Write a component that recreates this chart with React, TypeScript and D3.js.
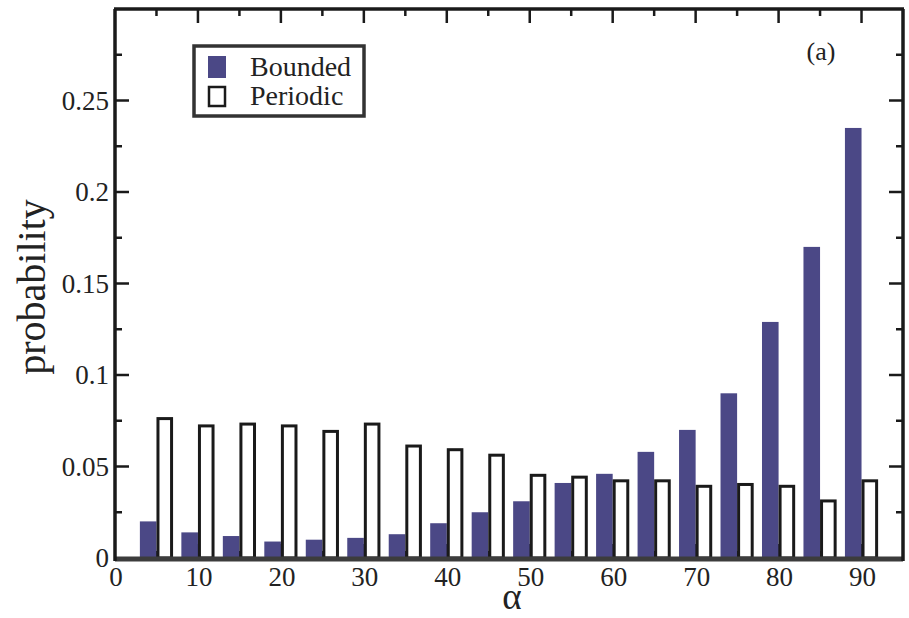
import * as d3 from "d3";
import React from "react";

const bins = [5, 10, 15, 20, 25, 30, 35, 40, 45, 50, 55, 60, 65, 70, 75, 80, 85, 90];
const bounded = [0.02, 0.014, 0.012, 0.009, 0.01, 0.011, 0.013, 0.019, 0.025, 0.031, 0.041, 0.046, 0.058, 0.07, 0.09, 0.129, 0.17, 0.235];
const periodic = [0.077, 0.073, 0.074, 0.073, 0.07, 0.074, 0.062, 0.06, 0.057, 0.046, 0.045, 0.043, 0.043, 0.04, 0.041, 0.04, 0.032, 0.043];
const xTicks = [0, 10, 20, 30, 40, 50, 60, 70, 80, 90];
const yTicks = [0, 0.05, 0.1, 0.15, 0.2, 0.25];
const yTickLabels = ["0", "0.05", "0.1", "0.15", "0.2", "0.25"];
const legendItems = ["Bounded", "Periodic"];

export default function App() {
  const svgRef = React.useRef(null);
  const width = 909;
  const height = 618;
  const margin = { top: 9, right: 6, bottom: 60, left: 115 };

  React.useEffect(() => {
    const svg = d3.select(svgRef.current);
    svg.selectAll("*").remove();

    const font = "'Liberation Serif', 'Times New Roman', serif";
    const blue = "#4b4886";

    const xScale = d3.scaleLinear().domain([0, 95]).range([margin.left, width - margin.right]);
    const yScale = d3.scaleLinear().domain([0, 0.3]).range([height - margin.bottom, margin.top]);
    const x0 = xScale(0);
    const x1 = xScale(95);
    const y0 = yScale(0);
    const y1 = yScale(0.3);

    // minor / major ticks on all four sides, pointing inward
    const xMinor = d3.range(5, 95, 10);
    const yMinor = d3.range(0.025, 0.3, 0.05);
    const tickG = svg.append("g").attr("stroke", "#1a1a1a");
    const addX = (vals: number[], len: number) => {
      vals.forEach((v) => {
        tickG.append("line").attr("x1", xScale(v)).attr("x2", xScale(v)).attr("y1", y1).attr("y2", y1 + len).attr("stroke-width", 2.5);
        tickG.append("line").attr("x1", xScale(v)).attr("x2", xScale(v)).attr("y1", y0).attr("y2", y0 - len).attr("stroke-width", 2.5);
      });
    };
    const addY = (vals: number[], len: number) => {
      vals.forEach((v) => {
        tickG.append("line").attr("x1", x0).attr("x2", x0 + len).attr("y1", yScale(v)).attr("y2", yScale(v)).attr("stroke-width", 2.5);
        tickG.append("line").attr("x1", x1).attr("x2", x1 - len).attr("y1", yScale(v)).attr("y2", yScale(v)).attr("stroke-width", 2.5);
      });
    };
    addX(xTicks.slice(1), 14);
    addX(xMinor, 7);
    addY(yTicks.slice(1), 14);
    addY(yMinor, 7);

    // bars
    svg
      .append("g")
      .selectAll("rect")
      .data(bins)
      .enter()
      .append("rect")
      .attr("x", (d) => xScale(d - 2))
      .attr("y", (d, i) => yScale(bounded[i]))
      .attr("width", xScale(2) - xScale(0))
      .attr("height", (d, i) => y0 - yScale(bounded[i]))
      .attr("fill", blue);

    svg
      .append("g")
      .selectAll("rect")
      .data(bins)
      .enter()
      .append("rect")
      .attr("x", (d) => xScale(d) + 1.5)
      .attr("y", (d, i) => yScale(periodic[i]) + 1.5)
      .attr("width", xScale(2) - xScale(0) - 3)
      .attr("height", (d, i) => y0 - yScale(periodic[i]) - 1.5)
      .attr("fill", "#fff")
      .attr("stroke", "#1a1a1a")
      .attr("stroke-width", 3);

    // frame
    svg.append("line").attr("x1", x0).attr("x2", x1).attr("y1", y0 + 1).attr("y2", y0 + 1).attr("stroke", "#3c3c3c").attr("stroke-width", 5);
    svg.append("line").attr("x1", x0 - 1).attr("x2", x1 + 1).attr("y1", y1).attr("y2", y1).attr("stroke", "#1a1a1a").attr("stroke-width", 3.5);
    svg.append("line").attr("x1", x0).attr("x2", x0).attr("y1", y1).attr("y2", y0 + 3).attr("stroke", "#1a1a1a").attr("stroke-width", 3.5);
    svg.append("line").attr("x1", x1).attr("x2", x1).attr("y1", y1).attr("y2", y0 + 3).attr("stroke", "#1a1a1a").attr("stroke-width", 3.5);

    // tick labels
    svg
      .append("g")
      .selectAll("text")
      .data(xTicks)
      .enter()
      .append("text")
      .attr("x", (d) => xScale(d) + 1)
      .attr("y", y0 + 28)
      .attr("text-anchor", "middle")
      .attr("font-family", font)
      .attr("font-size", 27)
      .attr("fill", "#222")
      .text((d) => d);

    svg
      .append("g")
      .selectAll("text")
      .data(yTicks)
      .enter()
      .append("text")
      .attr("x", x0 - 6)
      .attr("y", (d) => yScale(d))
      .attr("dy", "0.34em")
      .attr("text-anchor", "end")
      .attr("font-family", font)
      .attr("font-size", 27)
      .attr("fill", "#222")
      .text((d, i) => yTickLabels[i]);

    // axis titles
    svg
      .append("text")
      .attr("x", (x0 + x1) / 2 + 3)
      .attr("y", 609)
      .attr("text-anchor", "middle")
      .attr("font-family", font)
      .attr("font-size", 37)
      .attr("fill", "#222")
      .text("α");

    svg
      .append("text")
      .attr("transform", "rotate(-90)")
      .attr("x", -287)
      .attr("y", 45)
      .attr("text-anchor", "middle")
      .attr("font-family", font)
      .attr("font-size", 40)
      .attr("fill", "#222")
      .text("probability");

    svg
      .append("text")
      .attr("x", 821)
      .attr("y", 60)
      .attr("text-anchor", "middle")
      .attr("font-family", font)
      .attr("font-size", 26)
      .attr("fill", "#222")
      .text("(a)");

    // legend
    const legend = svg.append("g");
    legend.append("rect").attr("x", 194).attr("y", 46).attr("width", 170).attr("height", 70).attr("fill", "#fff").attr("stroke", "#333").attr("stroke-width", 3.5);
    legend.append("rect").attr("x", 208).attr("y", 56).attr("width", 18).attr("height", 22).attr("fill", blue);
    legend.append("rect").attr("x", 209).attr("y", 87).attr("width", 16).attr("height", 19).attr("fill", "#fff").attr("stroke", "#1a1a1a").attr("stroke-width", 2.5);
    legend
      .selectAll("text")
      .data(legendItems)
      .enter()
      .append("text")
      .attr("x", 250)
      .attr("y", (d, i) => 76 + i * 29)
      .attr("font-family", font)
      .attr("font-size", 28)
      .attr("fill", "#222")
      .text((d) => d);
  }, []);

  return (
    <svg
      ref={svgRef}
      width={width}
      height={height}
      viewBox={`0 0 ${width} ${height}`}
      style={{ position: "fixed", left: 0, top: 0, background: "#fff" }}
    ></svg>
  );
}
